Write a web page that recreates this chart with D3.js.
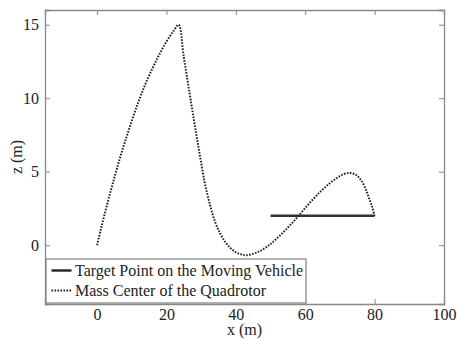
<!DOCTYPE html>
<html>
<head>
<meta charset="utf-8">
<script src="https://cdn.jsdelivr.net/npm/d3@7"></script>
<style>
  html, body { margin: 0; padding: 0; background: #fff; }
  svg { display: block; }
</style>
</head>
<body>
<svg id="chart" width="457" height="340"></svg>
<script>
// Target point on the moving vehicle (x, z) in metres
const targetX = [50, 80];
const targetZ = [2, 2];

// Mass center of the quadrotor (x, z) in metres
const quadX = [0, 1, 2, 3.5, 5, 6.5, 8, 10, 12, 14, 16, 18, 20, 22, 23.5,
  25, 26.5, 28, 29.5, 31, 32.5, 34, 35.5, 37, 38.5, 40, 41.5, 43,
  46, 49, 52, 55, 58, 61, 64, 67, 70, 72.5, 74.5, 76, 77.3, 78.4, 79.3, 80];
const quadZ = [0, 0.98, 1.94, 3.3, 4.6, 5.85, 7.0, 8.45, 9.8, 11.0, 12.05, 13.0, 13.85, 14.55, 15.0,
  12.8, 10.6, 8.4, 6.3, 4.3, 2.8, 1.6, 0.8, 0.2, -0.2, -0.48, -0.62, -0.68,
  -0.5, -0.1, 0.5, 1.2, 1.98, 2.8, 3.55, 4.2, 4.7, 4.92, 4.8, 4.45, 3.9, 3.2, 2.6, 2.0];

const xTicks = [0, 20, 40, 60, 80, 100];
const zTicks = [0, 5, 10, 15];
const legendLabels = ["Target Point on the Moving Vehicle", "Mass Center of the Quadrotor"];

const FONT = "'Liberation Serif', 'DejaVu Serif', 'Times New Roman', serif";
const FS = "16px";
const svg = d3.select("#chart");
const margin = { left: 45, top: 10, right: 13, bottom: 36 };
const W = 457, H = 340;
const x = d3.scaleLinear().domain([-15, 100]).range([margin.left, W - margin.right]);
const y = d3.scaleLinear().domain([-4, 16]).range([H - margin.bottom, margin.top]);

const axisColor = "#888";
const tickLen = 5;

// Axes: bottom and left carry labels, top and right mirror the ticks
const gB = svg.append("g").attr("transform", `translate(0,${y.range()[0]})`)
  .call(d3.axisBottom(x).tickValues(xTicks).tickSize(-tickLen).tickPadding(5).tickFormat(d3.format("d")));
const gT = svg.append("g").attr("transform", `translate(0,${y.range()[1]})`)
  .call(d3.axisTop(x).tickValues(xTicks).tickSize(-tickLen).tickFormat(""));
const gL = svg.append("g").attr("transform", `translate(${x.range()[0]},0)`)
  .call(d3.axisLeft(y).tickValues(zTicks).tickSize(-tickLen).tickPadding(6).tickFormat(d3.format("d")));
const gR = svg.append("g").attr("transform", `translate(${x.range()[1]},0)`)
  .call(d3.axisRight(y).tickValues(zTicks).tickSize(-tickLen).tickFormat(""));

[gB, gT, gL, gR].forEach(g => {
  g.attr("font-family", null);
  g.select(".domain").attr("stroke", axisColor).attr("stroke-width", 1.3);
  g.selectAll(".tick line").attr("stroke", axisColor);
  g.selectAll(".tick text").style("font-family", FONT).style("font-size", FS).attr("fill", "#222");
});

// Axis titles
svg.append("text").attr("x", (x.range()[0] + x.range()[1]) / 2).attr("y", 335)
  .attr("text-anchor", "middle").style("font-family", FONT).style("font-size", FS)
  .attr("fill", "#222").text("x (m)");
svg.append("text")
  .attr("transform", `translate(22,${(y.range()[0] + y.range()[1]) / 2}) rotate(-90)`)
  .attr("text-anchor", "middle").style("font-family", FONT).style("font-size", FS)
  .attr("fill", "#222").text("z (m)");

// Target trajectory
svg.append("path")
  .datum(d3.zip(targetX, targetZ))
  .attr("d", d3.line().x(d => x(d[0])).y(d => y(d[1])))
  .attr("fill", "none").attr("stroke", "#333").attr("stroke-width", 2.4);

// Quadrotor mass-center trajectory
svg.append("path")
  .datum(d3.zip(quadX, quadZ))
  .attr("d", d3.line().x(d => x(d[0])).y(d => y(d[1])).curve(d3.curveCatmullRom.alpha(0.5)))
  .attr("fill", "none").attr("stroke", "#222").attr("stroke-width", 2)
  .attr("stroke-dasharray", "1.6,1.4");

// Legend
const lg = svg.append("g").attr("transform", "translate(46,259)");
lg.append("rect").attr("width", 260).attr("height", 44)
  .attr("fill", "#fff").attr("stroke", axisColor).attr("stroke-width", 1.3);
const rows = [
  { label: legendLabels[0], dash: null, w: 2.4 },
  { label: legendLabels[1], dash: "1.6,1.4", w: 2 }
];
rows.forEach((r, i) => {
  const cy = 11.5 + i * 20;
  lg.append("line").attr("x1", 5.5).attr("x2", 25.5).attr("y1", cy).attr("y2", cy)
    .attr("stroke", "#222").attr("stroke-width", r.w)
    .attr("stroke-dasharray", r.dash);
  lg.append("text").attr("x", 29).attr("y", cy).attr("dy", "0.35em")
    .style("font-family", FONT).style("font-size", FS)
    .attr("fill", "#222").text(r.label);
});
</script>
</body>
</html>
